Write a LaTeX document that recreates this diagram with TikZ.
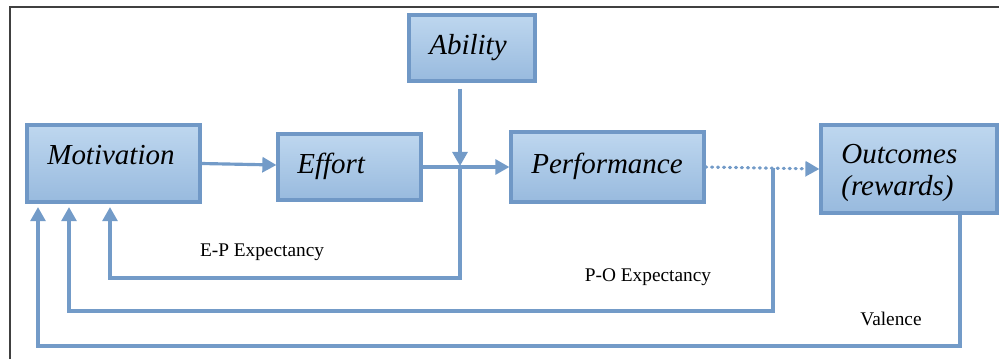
\documentclass[tikz,border=0pt]{standalone}
\usepackage{xcolor}
\usepackage{tikz}
\usetikzlibrary{positioning, arrows.meta}
\usepackage{fontspec}
\setmainfont{Liberation Serif}

\definecolor{boxtop}{RGB}{190,215,239}
\definecolor{boxbot}{RGB}{152,186,222}
\definecolor{boxline}{RGB}{112,152,198}
\definecolor{flow}{RGB}{115,155,200}

\begin{document}
\begin{tikzpicture}[
    x=0.02cm, y=-0.02cm,
    box/.style={draw=boxline, line width=1.8pt, top color=boxtop, bottom color=boxbot, inner sep=0pt},
    boxtext/.style={anchor=west, inner sep=0pt, font=\fontsize{16.5}{19}\selectfont\itshape},
    lbl/.style={inner sep=0pt, font=\fontsize{11}{13}\selectfont},
    arr/.style={draw=flow, line width=1.8pt, -{Triangle[length=8pt, width=8.5pt]}}
]
\useasboundingbox (0,0) rectangle (999,359);
% frame
\draw[black!75, line width=1pt] (10,359) -- (10,7) -- (999,7);

% Boxes
\node[box, minimum width=173*0.02cm, minimum height=77*0.02cm] (motivation) at (113.5,163.5) {};
\node[box, minimum width=143*0.02cm, minimum height=66*0.02cm] (effort) at (349.5,167) {};
\node[box, minimum width=126*0.02cm, minimum height=66*0.02cm] (ability) at (472,48) {};
\node[box, minimum width=193*0.02cm, minimum height=70*0.02cm] (performance) at (607.5,167) {};
\node[box, minimum width=176*0.02cm, minimum height=88*0.02cm] (outcomes) at (909,169) {};

% Box texts
\node[boxtext] (motivationtxt) at (47,155) {Motivation};
\node[boxtext] (efforttxt) at (297,166) {Effort};
\node[boxtext] (abilitytxt) at (429,48) {Ability};
\node[boxtext] (performancetxt) at (531,166) {Performance};
\node[boxtext, align=left] (outcomestxt) at (841,173) {Outcomes\\[-0.5pt](rewards)};

% Main flow
\coordinate (jn) at (460,166);
\coordinate (pojn) at (773,168);
\draw[arr] (motivation.east) -- ([yshift=0.04cm]effort.west);
\draw[arr] (effort.east) -- (performance.west);
\draw[arr] (ability.south -| jn) ++(0,6) -- (jn);
\draw[arr, line cap=round, dash pattern=on 0.6pt off 2.8pt] (performance.east) -- (outcomes.west);

% Feedback loops
\coordinate (ep) at (110,278);
\coordinate (po) at (69,311);
\coordinate (valtop) at (960,215);
\coordinate (val) at (38,346);
\draw[arr, shorten >=2pt] (jn) |- (ep) -- (ep |- motivation.south);
\draw[arr, shorten >=2pt] (pojn) |- (po) -- (po |- motivation.south);
\draw[arr, shorten >=2pt] (valtop) |- (val) -- (val |- motivation.south);

% Labels
\node[lbl] (eplbl) at (262,252) {E-P Expectancy};
\node[lbl] (polbl) at (648,277) {P-O Expectancy};
\node[lbl] (vallbl) at (891,319) {Valence};
\end{tikzpicture}
\end{document}
